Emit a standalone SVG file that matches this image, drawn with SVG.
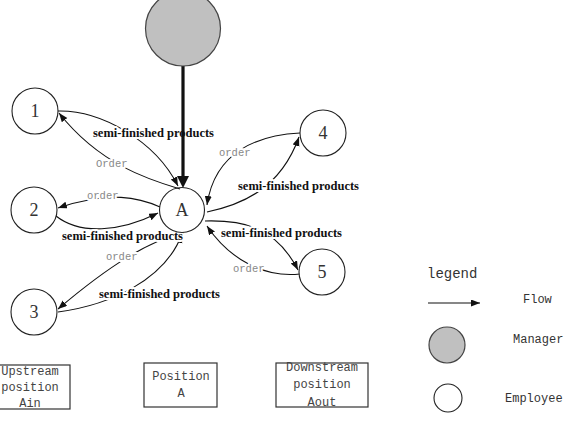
<svg xmlns="http://www.w3.org/2000/svg" width="577" height="426" viewBox="0 0 577 426">
<style>
.emp{fill:#fff;stroke:#222;stroke-width:1.1}
.mgr{fill:#c0c0c0;stroke:#444;stroke-width:1.2}
.nl{font-family:"Liberation Serif",serif;font-size:18px;fill:#333;text-anchor:middle}
.edge{fill:none;stroke:#111;stroke-width:1.1;marker-end:url(#ah)}
.plain{fill:none;stroke:#111;stroke-width:1.1}
.sf{font-family:"Liberation Serif",serif;font-weight:bold;font-size:12.5px;fill:#111;stroke:#fff;stroke-width:4;stroke-linejoin:round;paint-order:stroke}
.ord{font-family:"Liberation Mono",monospace;font-size:10.5px;fill:#888;stroke:#fff;stroke-width:4;stroke-linejoin:round;paint-order:stroke}
.box{fill:#fff;stroke:#333;stroke-width:1.2}
.bt{font-family:"Liberation Mono",monospace;font-size:12px;fill:#444;text-anchor:middle}
.lg{font-family:"Liberation Mono",monospace;font-size:12px;fill:#333}
</style>
<defs>
<marker id="ah" markerUnits="userSpaceOnUse" markerWidth="10" markerHeight="8" refX="9" refY="3.5" orient="auto">
<path d="M0,0 L9,3.5 L0,7 z" fill="#111"/>
</marker>
<marker id="ahb" markerUnits="userSpaceOnUse" markerWidth="13" markerHeight="13" refX="1" refY="6" orient="auto">
<path d="M0,0 L12,6 L0,12 z" fill="#111"/>
</marker>
</defs>
<rect width="577" height="426" fill="#fff"/>

<g id="connectors">
<path class="edge" d="M58,111 C100,110 155,140 178,186"/>
<path class="edge" d="M180,189 C150,180 100,165 59,113"/>
<path class="edge" d="M160,207 C140,198 110,190 58,208"/>
<path class="edge" d="M56,216 C80,235 120,232 158,213"/>
<path class="edge" d="M184,233 C150,240 110,265 58,309"/>
<path class="edge" d="M58,312 C110,305 165,280 182,234"/>
<path class="edge" d="M300,133 C260,135 215,150 207,205"/>
<path class="edge" d="M207,212 C240,205 280,190 299,137"/>
<path class="edge" d="M205,221 C240,220 275,225 298,270"/>
<path class="edge" d="M300,274 C265,278 230,260 207,226"/>
<text class="sf" x="93" y="137">semi-finished products</text>
<text class="sf" x="238" y="190">semi-finished products</text>
<text class="sf" x="221" y="237">semi-finished products</text>
<text class="sf" x="62" y="240">semi-finished products</text>
<text class="sf" x="99" y="298">semi-finished products</text>
<text class="ord" x="96" y="167">Order</text>
<text class="ord" x="87" y="199">order</text>
<text class="ord" x="219" y="156">order</text>
<text class="ord" x="233" y="272">order</text>
<text class="ord" x="106" y="260">order</text>
<path d="M183,66 L183,177" fill="none" stroke="#111" stroke-width="3.2" marker-end="url(#ahb)"/>
</g>

<g id="manager"><circle class="mgr" cx="183" cy="28.5" r="37.5"/></g>
<g id="nodeA"><circle class="emp" cx="182" cy="210" r="22.5" fill="none" style="fill:none"/><text class="nl" x="182" y="216">A</text></g>
<g id="node1"><circle class="emp" cx="35" cy="111" r="23"/><text class="nl" x="35" y="117">1</text></g>
<g id="node2"><circle class="emp" cx="34" cy="210" r="23"/><text class="nl" x="34" y="216">2</text></g>
<g id="node3"><circle class="emp" cx="34" cy="312" r="23"/><text class="nl" x="34" y="318">3</text></g>
<g id="node4"><circle class="emp" cx="323" cy="133" r="23"/><text class="nl" x="323" y="139">4</text></g>
<g id="node5"><circle class="emp" cx="322" cy="272" r="23"/><text class="nl" x="322" y="278">5</text></g>

<g id="box-upstream"><rect class="box" x="-10" y="365" width="80" height="44"/>
<text class="bt" x="30" y="375">Upstream</text><text class="bt" x="30" y="391">position</text><text class="bt" x="30" y="407">Ain</text></g>
<g id="box-position"><rect class="box" x="144" y="363" width="73" height="44"/>
<text class="bt" x="181" y="380">Position</text><text class="bt" x="181" y="397">A</text></g>
<g id="box-downstream"><rect class="box" x="276" y="363" width="92" height="44"/>
<text class="bt" x="322" y="371">Downstream</text><text class="bt" x="322" y="388">position</text><text class="bt" x="322" y="406">Aout</text></g>

<g id="legend">
<text class="lg" x="427" y="278" style="font-size:14px">legend</text>
<path class="edge" d="M428,303 L480,303"/>
<text class="lg" x="523" y="303">Flow</text>
<circle class="mgr" cx="447" cy="345" r="18"/>
<text class="lg" x="513" y="343">Manager</text>
<circle class="emp" cx="448" cy="398" r="14"/>
<text class="lg" x="505" y="402">Employee</text>
</g>
</svg>
